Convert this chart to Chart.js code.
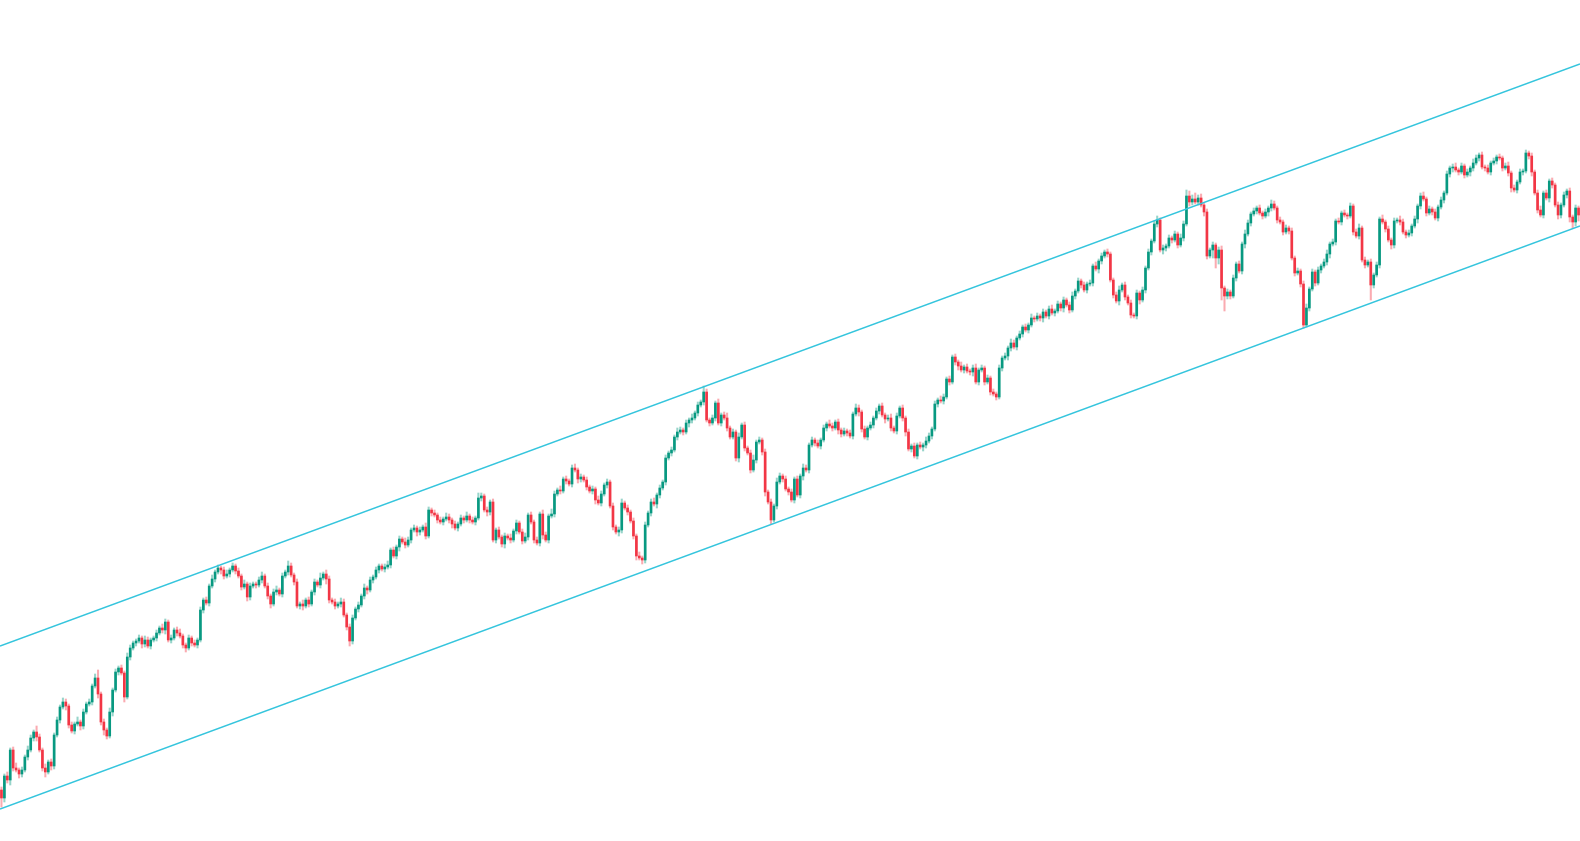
<!DOCTYPE html>
<html>
<head>
<meta charset="utf-8">
<title>Price channel</title>
<script src="https://cdn.jsdelivr.net/npm/chart.js@4.4.1/dist/chart.umd.min.js"></script>
<style>
  html, body { margin: 0; padding: 0; background: #ffffff; }
  #wrap { width: 1580px; height: 841px; }
</style>
</head>
<body>
<div id="wrap"><canvas id="chart"></canvas></div>
<script>
// open of the very first candle, every later candle opens at the previous close
const firstOpen = 210;

// daily closes
const closes = [
  202, 224, 220, 250, 232, 230, 226, 230, 243, 250,
  262, 268, 263, 250, 232, 228, 238, 234, 265, 280,
  293, 298, 294, 275, 269, 276, 278, 274, 288, 296,
  298, 314, 322, 306, 278, 270, 264, 288, 310, 328,
  332, 327, 303, 343, 352, 357, 359, 362, 356, 360,
  354, 360, 362, 367, 372, 370, 378, 360, 362, 370,
  367, 364, 355, 352, 362, 357, 355, 360, 390, 400,
  397, 414, 421, 428, 432, 430, 424, 426, 430, 434,
  429, 424, 413, 416, 403, 414, 416, 415, 420, 424,
  414, 404, 396, 408, 410, 406, 424, 428, 434, 425,
  418, 394, 396, 394, 400, 396, 408, 418, 415, 422,
  426, 421, 400, 398, 394, 396, 398, 385, 373, 359,
  382, 391, 395, 404, 412, 410, 420, 423, 430, 434,
  431, 433,
  435, 450, 444, 453, 461, 458, 455, 460, 470, 472,
  468, 470, 473, 464, 490, 487, 485, 480, 478, 481,
  483, 480, 476, 472, 476, 482, 480, 484, 480, 478,
  482, 502, 504, 490, 488, 498, 460, 470, 463, 456,
  464, 462, 460, 469, 477, 468, 459, 463, 485, 478, 460,
  457, 486, 465, 460, 484, 486, 506, 510, 509, 521,
  519, 516, 532, 530, 521, 523, 520, 513, 509, 511,
  500, 497, 506, 515, 518, 494, 473, 468, 470, 497, 492,
  488, 479, 464, 444, 442, 440, 475, 487, 498,
  496, 505, 512, 518, 542, 547, 550, 563, 568, 570,
  568, 577, 580, 582, 587, 595, 598, 608, 580, 577,
  582, 597, 577, 585, 582, 572, 563, 568, 542, 563,
  575, 552, 547, 530, 540, 558, 560, 548, 508, 498,
  480, 494, 518, 524, 521, 511, 508, 500, 521, 505,
  524, 532, 530, 555, 560, 557, 554, 560, 572, 576,
  574, 572, 578,
  570, 566, 569, 567, 564, 586, 592, 588, 571, 563,
  572, 575, 582, 589, 594, 585, 581, 582, 572, 569,
  584, 592, 582, 568, 551, 554, 544, 555, 553, 555,
  559, 564, 571, 596, 600, 599, 603, 621, 618, 643,
  638, 634, 630, 633, 629, 628, 632, 618, 630, 632,
  618, 622, 608, 606, 603, 632, 642, 644, 652, 657,
  653, 662, 666,
  673, 670, 675, 682, 681, 684, 682, 688, 684, 691,
  687, 689, 696, 692, 700, 695, 690, 704, 709, 719,
  715, 710, 716, 717, 734, 731, 739, 744, 748, 746,
  720, 705, 699, 710, 715, 703, 697, 685, 684, 707,
  700, 710, 732, 748, 759, 776, 780, 750, 752, 754,
  762, 760, 766, 755, 762, 776, 804, 798, 801, 798,
  802, 795, 788, 744, 750, 755, 742, 750, 712, 704,
  708, 704, 722, 736, 729,
  756, 766, 777, 786, 789, 792, 787, 784, 788, 792,
  796, 792, 780, 778, 768, 772, 769, 742, 727, 729,
  716, 675, 692, 711, 728, 717, 730, 734, 738, 746,
  756, 758, 779, 778, 787, 785, 784, 794, 768, 764,
  772, 740, 735, 738, 715, 725, 735, 781, 778, 771,
  760, 755, 779, 780, 778, 768, 765, 767, 774, 781,
  794, 804, 801, 787, 791, 788, 782, 793, 800, 807,
  826, 832, 833, 830, 828, 834, 825, 828, 832, 837,
  842, 845, 833, 832, 828, 837, 839, 843, 842, 832,
  834, 827, 812, 810, 818, 828, 829, 847, 844, 828,
  807, 790, 785, 807, 802, 819, 815, 795, 785, 795,
  805, 809, 783, 778, 792, 785
];

// how far the high sits above the body
const wickUp = [
  3,2,4,2,3,5,2,3,2,4, 3,2,6,3,2,4,2,3,2,3, 2,4,3,2,3,2,5,2,3,2, 3,2,4,8,2,3,2,4,2,3,
  2,3,2,4,3,2,2,3,2,4, 3,2,2,3,2,4,3,2,3,2, 3,4,2,2,3,2,3,2,3,2, 3,2,4,2,3,2,3,4,2,3,
  2,3,2,4,2,3,2,2,3,4, 2,3,2,3,4,2,3,2,5,3, 2,3,2,4,2,3,2,3,2,5, 2,4,3,2,3,2,4,3,2,3,
  3,2,3,2,4,2,3,2,3,2, 2,3,4,2,3,2,3,2,4,3, 2,3,2,3,2,4,3,2,3,2, 3,2,4,3,2,3,2,3,2,4,
  2,3,2,5,3,2,3,2,3,2, 3,2,3,2,4,2,3,2,3,4, 2,3,2,3,2,4,3,2,5,3, 2,4,2,3,2,3,4,2,3,2,
  3,2,3,2,4,3,2,3,2,3, 2,3,4,2,3,2,3,2,4,2, 3,2,3,4,2,3,2,3,2,3, 2,4,3,2,3,2,4,2,3,2,
  6,3,2,3,2,4,2,3,5,2, 3,2,4,2,3,2,3,5,2,3, 2,3,2,3,2,4,3,2,3,2, 3,2,3,2,4,3,2,3,2,3,
  2,3,2,4,3,2,3,2,3,2, 3,2,4,3,2,3,2,3,2,3, 2,3,2,3,4,2,3,2,3,2, 3,2,3,2,3,2,4,3,2,3,
  2,4,3,2,3,2,3,2,4,2, 3,2,3,4,2,3,2,3,2,3, 2,3,2,3,2,4,3,2,3,2, 3,2,4,2,3,2,3,2,3,4,
  2,3,2,3,2,3,4,2,3,2, 3,2,3,2,4,2,3,2,3,2, 2,3,4,2,3,2,3,2,3,2, 3,2,3,2,3,4,2,3,2,3,
  2,3,2,4,3,6,5,4,6,3, 4,2,3,2,3,2,3,4,2,3, 2,3,2,3,2,4,3,2,3,2, 3,2,3,2,4,3,2,3,2,3,
  2,3,2,3,2,3,4,2,3,2, 3,2,3,4,2,3,2,3,2,3, 2,3,2,3,4,2,3,2,3,2, 3,2,4,2,3,2,3,2,4,3,
  2,3,2,3,2,3,4,2,3,2, 3,2,3,2,3,2,3,4,2,3, 2,3,2,4,3,2,3,2,3,2, 3,2,3,2,3,4,2,3,2,3,
  2,3,2,3,2,3,4,2,3,2, 3,2,3,2,3,2,3,2,3,2
];

// how far the low sits below the body
const wickDown = [
  9,4,3,5,3,2,4,3,2,3, 2,3,4,2,3,5,2,4,3,2, 3,2,4,3,2,3,2,4,3,2, 2,3,2,4,3,5,3,2,4,2,
  3,2,5,2,3,2,3,2,4,3, 2,3,2,3,2,3,4,2,3,2, 3,2,3,4,2,3,2,3,2,3, 2,3,2,3,2,4,3,2,3,2,
  3,2,3,2,4,3,2,3,2,3, 2,3,4,2,3,2,3,2,3,2, 3,2,3,4,2,3,2,3,2,3, 2,5,3,2,3,2,3,2,3,5,
  3,2,3,2,3,4,2,3,2,3, 2,3,2,3,2,3,4,2,3,2, 3,2,4,3,2,3,2,3,2,3, 2,3,2,3,4,2,3,2,3,2,
  3,2,3,2,3,2,4,3,2,3, 2,3,4,2,3,2,3,2,3,2, 3,2,3,2,3,4,2,3,2,3, 2,3,2,3,2,3,2,4,3,2,
  3,2,3,4,2,3,2,3,2,3, 2,4,3,2,3,2,3,4,2,4, 3,2,3,2,4,3,2,3,2,3, 2,3,2,3,2,4,3,2,3,2,
  3,2,3,2,3,2,3,2,3,2, 2,3,4,2,3,2,3,2,3,2, 3,4,2,4,2,3,2,3,2,3, 2,3,2,3,4,2,3,2,3,2,
  3,2,3,2,3,2,4,3,2,3, 2,3,2,4,3,2,3,2,3,2, 3,2,4,2,3,2,3,2,3,4, 2,3,2,3,2,4,3,2,3,2,
  3,2,3,2,3,2,3,4,2,3, 2,3,4,2,3,2,3,2,3,2, 3,2,3,2,4,3,2,3,2,3, 2,3,2,3,2,3,4,2,3,2,
  3,2,3,4,2,3,2,3,2,3, 2,3,2,3,2,4,3,2,3,2, 3,2,4,2,3,2,3,2,3,4, 2,3,2,3,2,3,2,4,3,2,
  3,2,3,2,3,2,4,3,2,3, 2,4,3,2,8,10,6,12,15,3, 3,2,3,2,3,4,2,3,2,3, 2,3,2,4,3,2,3,2,3,2,
  3,2,3,2,3,3,2,3,2,3, 2,3,2,3,4,2,3,2,3,2, 3,2,3,2,3,2,3,2,15,3, 2,3,2,3,2,4,3,2,3,2,
  3,2,3,2,4,3,2,3,2,3, 2,3,2,3,2,3,4,2,3,2, 3,2,4,3,2,3,2,3,2,3, 2,3,2,3,2,3,4,2,3,2,
  3,2,3,4,2,3,2,3,2,4, 3,2,4,3,2,3,5,6,4,6
];

// trend channel, value at the left edge and at the right edge
const upperChannel = [354, 936];
const lowerChannel = [191, 774];

const upColor = '#089981';
const downColor = '#f23645';
const upWick = 'rgba(8, 153, 129, 0.42)';
const downWick = 'rgba(242, 54, 69, 0.42)';
const channelColor = '#35c5dd';

const N = closes.length;
const opens = closes.map((c, i) => i === 0 ? firstOpen : closes[i - 1]);
const isUp = closes.map((c, i) => c >= opens[i]);

const bodies = closes.map((c, i) => ({ x: i, y: [opens[i], c] }));
const wicks = closes.map((c, i) => ({
  x: i,
  y: [Math.min(opens[i], c) - wickDown[i], Math.max(opens[i], c) + wickUp[i]]
}));

const ctx = document.getElementById('chart').getContext('2d');

new Chart(ctx, {
  type: 'bar',
  data: {
    datasets: [
      {
        type: 'line',
        data: [{ x: -0.5, y: upperChannel[0] }, { x: N - 0.5, y: upperChannel[1] }],
        borderColor: channelColor,
        borderWidth: 1.6,
        pointRadius: 0,
        order: 0
      },
      {
        type: 'line',
        data: [{ x: -0.5, y: lowerChannel[0] }, { x: N - 0.5, y: lowerChannel[1] }],
        borderColor: channelColor,
        borderWidth: 1.6,
        pointRadius: 0,
        order: 0
      },
      {
        type: 'bar',
        data: bodies,
        backgroundColor: isUp.map(u => u ? upColor : downColor),
        barThickness: 2,
        minBarLength: 1,
        grouped: false,
        order: 1
      },
      {
        type: 'bar',
        data: wicks,
        backgroundColor: isUp.map(u => u ? upWick : downWick),
        barThickness: 1.4,
        grouped: false,
        order: 2
      }
    ]
  },
  options: {
    animation: false,
    responsive: true,
    maintainAspectRatio: false,
    layout: { padding: 0 },
    plugins: {
      legend: { display: false },
      tooltip: { enabled: false }
    },
    scales: {
      x: { type: 'linear', min: -0.5, max: N - 0.5, offset: false, display: false },
      y: { type: 'linear', min: 159, max: 1000, display: false }
    }
  }
});
</script>
</body>
</html>
